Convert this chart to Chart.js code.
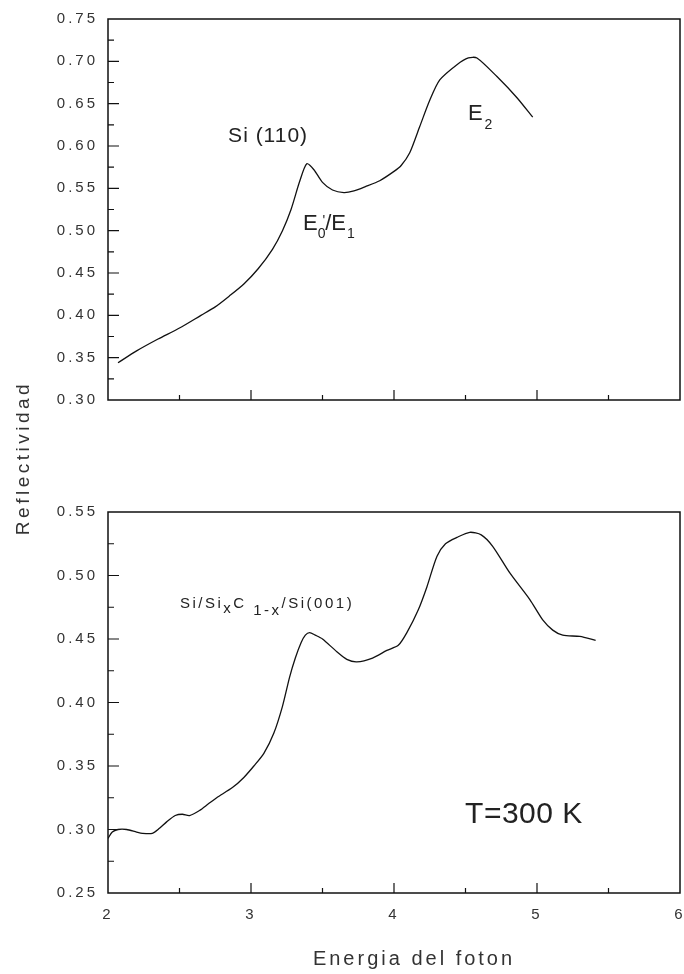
<!DOCTYPE html>
<html>
<head>
<meta charset="utf-8">
<script src="https://cdn.jsdelivr.net/npm/chart.js@4.4.0/dist/chart.umd.min.js"></script>
<style>
  html, body { margin: 0; padding: 0; background: #fff; }
  #wrap { position: relative; width: 684px; height: 974px; overflow: hidden; }
  canvas { position: absolute; left: 0; }
  #ylab {
    position: absolute; left: -77px; top: 447px; width: 200px; height: 22px;
    line-height: 22px; text-align: center; transform: rotate(-90deg);
    font: 19px "Liberation Sans", Arial, sans-serif; letter-spacing: 3.5px; color: #333;
  }
</style>
</head>
<body>
<div id="wrap">
  <canvas id="topChart" width="684" height="410" style="top:0"></canvas>
  <canvas id="bottomChart" width="684" height="484" style="top:490px"></canvas>
  <div id="ylab">Reflectividad</div>
</div>
<script>
// Si (110) reflectance spectrum
const energyTop = [2.07, 2.2, 2.35, 2.5, 2.65, 2.75, 2.85, 2.95, 3.05, 3.15,
  3.22, 3.28, 3.34, 3.39, 3.44, 3.5, 3.57, 3.65, 3.72, 3.8,
  3.9, 4.0, 4.05, 4.11, 4.18, 4.25, 4.32, 4.44, 4.52, 4.58,
  4.72, 4.86, 4.97];
const reflTop = [0.344, 0.358, 0.372, 0.385, 0.400, 0.410, 0.423, 0.437, 0.455, 0.478,
  0.500, 0.525, 0.558, 0.579, 0.572, 0.557, 0.548, 0.545, 0.547, 0.552,
  0.559, 0.570, 0.577, 0.592, 0.623, 0.654, 0.678, 0.696, 0.704, 0.704,
  0.682, 0.657, 0.634];

// Si/SixC1-x/Si(001) reflectance spectrum, T = 300 K
const energyBottom = [2.0, 2.03, 2.07, 2.13, 2.2, 2.24, 2.31, 2.36, 2.41, 2.47,
  2.52, 2.57, 2.64, 2.7, 2.76, 2.87, 2.95, 3.02, 3.09, 3.16,
  3.22, 3.27, 3.31, 3.35, 3.38, 3.41, 3.45, 3.5, 3.6, 3.67,
  3.74, 3.85, 3.95, 4.03, 4.09, 4.17, 4.23, 4.3, 4.36, 4.44,
  4.53, 4.61, 4.69, 4.81, 4.95, 5.04, 5.11, 5.18, 5.3, 5.41];
const reflBottom = [0.293, 0.298, 0.300, 0.300, 0.298, 0.297, 0.297, 0.301, 0.306, 0.311,
  0.312, 0.311, 0.315, 0.320, 0.325, 0.333, 0.341, 0.350, 0.360, 0.376,
  0.397, 0.420, 0.435, 0.447, 0.453, 0.455, 0.453, 0.450, 0.440, 0.434,
  0.432, 0.435, 0.441, 0.445, 0.455, 0.473, 0.491, 0.515, 0.525, 0.530,
  0.534, 0.532, 0.523, 0.502, 0.481, 0.465, 0.457, 0.453, 0.452, 0.449];

const xRange = [2, 6];
const yRangeTop = [0.30, 0.75];
const yRangeBottom = [0.25, 0.55];
const xTitle = 'Energia del foton';

const FONT = '"Liberation Sans", Arial, sans-serif';

function points(xs, ys) {
  return xs.map((x, i) => ({ x: x, y: ys[i] }));
}

// draws a run of text pieces (sub/superscripts) one after the other
function drawParts(ctx, x, y, parts) {
  let cx = x;
  for (const p of parts) {
    ctx.font = p.size + 'px ' + FONT;
    ctx.letterSpacing = (p.ls || 0) + 'px';
    cx += p.dx || 0;
    ctx.fillText(p.t, cx, y + (p.dy || 0));
    cx += ctx.measureText(p.t).width;
  }
}

// box frame, inward ticks and the text labels inside the plot
function framePlugin(notes, drawTitle) {
  return {
    id: 'frame',
    beforeDraw(chart) { chart.ctx.letterSpacing = '3px'; },
    beforeDatasetsDraw(chart) { chart.ctx.letterSpacing = '0px'; },
    afterDraw(chart) {
      const { ctx, chartArea: a, scales: { x, y } } = chart;
      ctx.save();
      ctx.strokeStyle = '#111';
      ctx.lineWidth = 1.5;
      ctx.strokeRect(a.left, a.top, a.right - a.left, a.bottom - a.top);

      ctx.lineWidth = 1.2;
      ctx.beginPath();
      const nx = Math.round((x.max - x.min) / 0.5);
      for (let i = 1; i < nx; i++) {
        const px = x.getPixelForValue(x.min + i * 0.5);
        const len = i % 2 === 0 ? 10 : 5;
        ctx.moveTo(px, a.bottom);
        ctx.lineTo(px, a.bottom - len);
      }
      const ny = Math.round((y.max - y.min) / 0.025);
      for (let i = 1; i < ny; i++) {
        const py = y.getPixelForValue(y.min + i * 0.025);
        const len = i % 2 === 0 ? 11 : 6;
        ctx.moveTo(a.left, py);
        ctx.lineTo(a.left + len, py);
      }
      ctx.stroke();

      ctx.fillStyle = '#222';
      ctx.textBaseline = 'alphabetic';
      ctx.textAlign = 'left';
      for (const n of notes) {
        drawParts(ctx, x.getPixelForValue(n.x), y.getPixelForValue(n.y), n.parts);
      }

      if (drawTitle) {
        ctx.fillStyle = '#333';
        ctx.font = '20px ' + FONT;
        ctx.letterSpacing = '3px';
        ctx.textAlign = 'center';
        ctx.fillText(xTitle, (a.left + a.right) / 2 + 20, a.bottom + 72);
      }
      ctx.letterSpacing = '0px';
      ctx.restore();
    }
  };
}

function makeOptions(yRange, showX, xHeight, padTop) {
  return {
    responsive: false,
    animation: false,
    events: [],
    layout: { padding: { top: padTop, right: 4, left: 0, bottom: 0 } },
    plugins: { legend: { display: false }, tooltip: { enabled: false } },
    elements: { point: { radius: 0 } },
    scales: {
      x: {
        type: 'linear',
        min: xRange[0], max: xRange[1],
        grid: { display: false, drawTicks: false },
        border: { display: false },
        ticks: {
          display: showX, stepSize: 1, padding: 13, maxRotation: 0,
          color: '#333', font: { family: FONT, size: 15 }
        },
        afterFit(s) { s.height = xHeight; s.paddingLeft = 0; s.paddingRight = 0; }
      },
      y: {
        min: yRange[0], max: yRange[1],
        grid: { display: false, drawTicks: false },
        border: { display: false },
        ticks: {
          stepSize: 0.05, padding: 10, color: '#333',
          font: { family: FONT, size: 15 },
          callback: v => v.toFixed(2)
        },
        afterFit(s) { s.width = 108; s.paddingTop = 0; s.paddingBottom = 0; }
      }
    }
  };
}

const lineStyle = {
  borderColor: '#111',
  borderWidth: 1.3,
  tension: 0.25,
  fill: false
};

new Chart(document.getElementById('topChart'), {
  type: 'line',
  data: { datasets: [Object.assign({ label: 'Si (110)', data: points(energyTop, reflTop) }, lineStyle)] },
  options: makeOptions(yRangeTop, false, 10, 19),
  plugins: [framePlugin([
    { x: 2.84, y: 0.6045, parts: [{ t: 'Si (110)', size: 21, ls: 1 }] },
    { x: 3.364, y: 0.5008, parts: [
      { t: 'E', size: 22 },
      { t: '0', size: 14, dy: 8 },
      { t: '\'', size: 14, dx: -3, dy: -5 },
      { t: '/E', size: 22 },
      { t: '1', size: 14, dy: 8, dx: 1 }
    ] },
    { x: 4.517, y: 0.6307, parts: [
      { t: 'E', size: 22 },
      { t: '2', size: 14, dy: 9, dx: 2 }
    ] }
  ], false)]
});

new Chart(document.getElementById('bottomChart'), {
  type: 'line',
  data: { datasets: [Object.assign({ label: 'Si/SixC1-x/Si(001)', data: points(energyBottom, reflBottom) }, lineStyle)] },
  options: makeOptions(yRangeBottom, true, 81, 22),
  plugins: [framePlugin([
    { x: 2.503, y: 0.4744, parts: [
      { t: 'Si/Si', size: 15, ls: 2.5 },
      { t: 'x', size: 15, ls: 2.5, dy: 5 },
      { t: 'C ', size: 15, ls: 2.5 },
      { t: '1-x', size: 15, ls: 2.5, dy: 7 },
      { t: '/Si(001)', size: 15, ls: 2.5 }
    ] },
    { x: 4.497, y: 0.3052, parts: [{ t: 'T=300 K', size: 30, ls: 0.5 }] }
  ], true)]
});
</script>
</body>
</html>
